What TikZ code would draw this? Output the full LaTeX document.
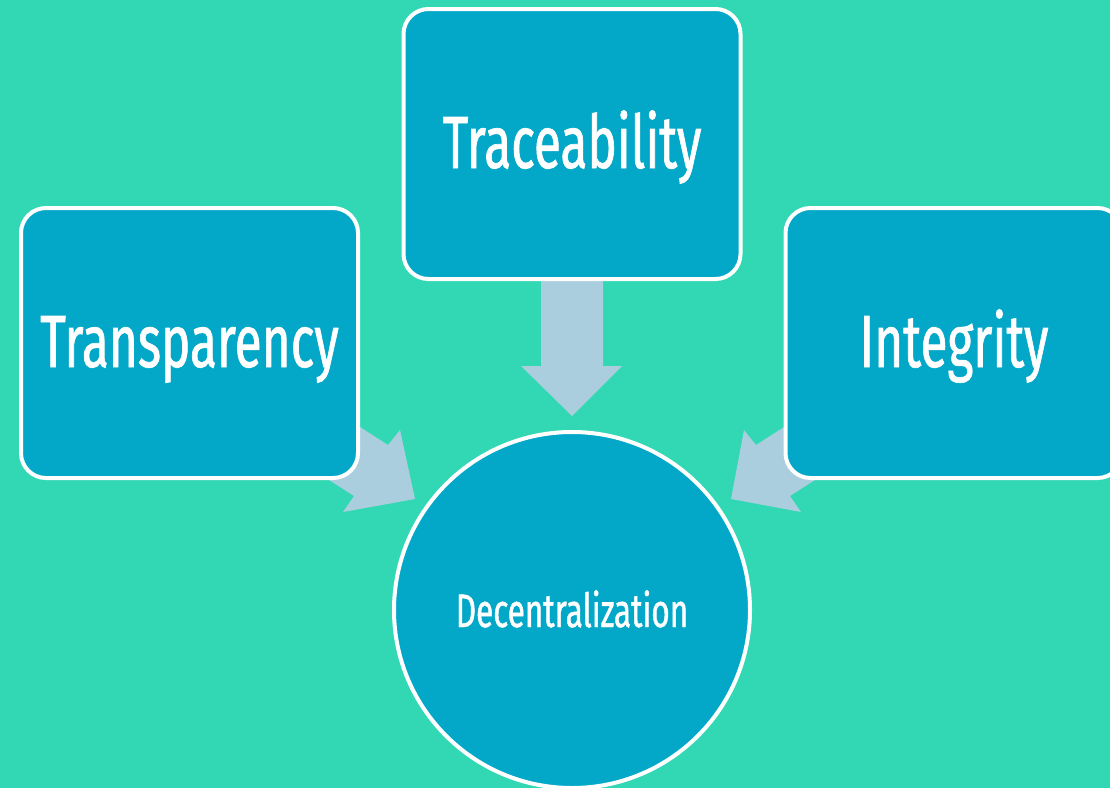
\documentclass[tikz,border=0pt]{standalone}
\usepackage{fontspec}
\setmainfont{Fira Sans}[FakeStretch=0.67,FakeBold=0.9]
\definecolor{bg}{RGB}{50,216,180}
\definecolor{boxfill}{RGB}{3,168,200}
\definecolor{arrowc}{RGB}{170,206,222}
\begin{document}
\begin{tikzpicture}[x=1pt,y=-1pt,
  card/.style={draw=white,line width=4pt,fill=boxfill,rounded corners=25pt,
    minimum width=337pt,minimum height=270pt,inner sep=0pt,text=white,
    text height=60pt,text depth=12pt,
    font=\fontsize{74}{80}\selectfont},
  hub/.style={circle,draw=white,line width=4pt,fill=boxfill,minimum size=356pt,
    inner sep=0pt,text=white,text height=44pt,text depth=10pt,
    font=\fontsize{47}{52}\selectfont},
  blockarrow/.style={fill=arrowc,draw=none}]
\useasboundingbox (0,0) rectangle (1110,788);
\clip (0,0) rectangle (1110,788);
\fill[bg] (0,0) rectangle (1110,788);
% block arrows (behind the cards)
\fill[blockarrow] (541,270) -- (603,270) -- (603,366) -- (622,366) -- (572,416) -- (521,366) -- (541,366) -- cycle;
\fill[blockarrow] (304,391) -- (388,445) -- (400,430) -- (415,499) -- (343,512) -- (354,496) -- (270,442) -- cycle;
\fill[blockarrow] (840,391) -- (756,445) -- (744,430) -- (731,499) -- (801,512) -- (790,496) -- (874,442) -- cycle;
\node[card] (trans) at (189.5,343) {Transparency};
\node[card] (trace) at (572,144) {Traceability};
\node[card] (integ) at (954,343) {Integrity};
\node[hub] (dec) at (572,610) {Decentralization};
\end{tikzpicture}
\end{document}
